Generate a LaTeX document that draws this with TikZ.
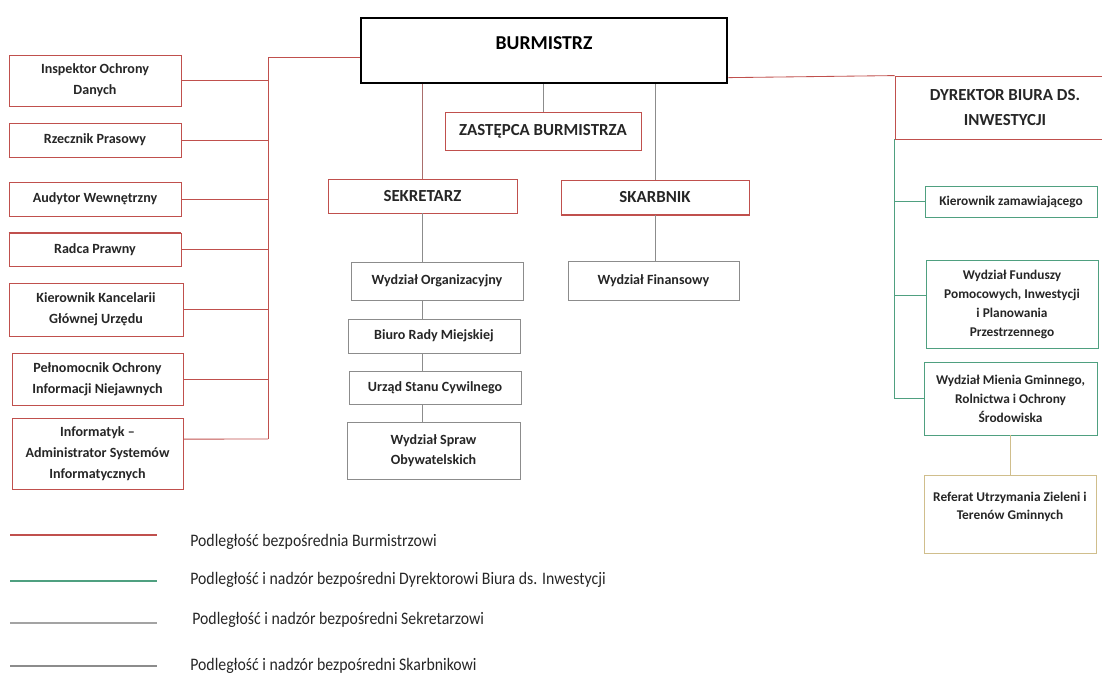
\documentclass[tikz,border=0pt]{standalone}
\usepackage{fontspec}
\setmainfont{Carlito}
\newfontfamily\legendfont{Carlito}[FakeStretch=0.9]
\usetikzlibrary{calc}
\definecolor{orgred}{RGB}{192,80,77}
\definecolor{orgbrown}{RGB}{170,110,108}
\definecolor{orggreen}{RGB}{79,160,128}
\definecolor{orggray}{RGB}{140,140,140}
\definecolor{orgtan}{RGB}{208,190,140}
\definecolor{orgtext}{RGB}{38,38,38}
\begin{document}
\begin{tikzpicture}[x=0.25mm,y=-0.25mm,
    box/.style={draw,line width=0.6pt,align=center,inner sep=2pt,text=orgtext,font=\bfseries\fontsize{10}{15}\selectfont},
    redbox/.style={box,draw=orgred},
    graybox/.style={box,draw=orggray,font=\bfseries\fontsize{10}{14}\selectfont},
    greenbox/.style={box,draw=orggreen,font=\bfseries\fontsize{9.5}{13.5}\selectfont},
    headbox/.style={redbox,font=\bfseries\fontsize{12}{18}\selectfont},
    redline/.style={orgred,line width=0.6pt},
    grayline/.style={orggray,line width=0.6pt},
    greenline/.style={orggreen,line width=0.6pt},
    legend/.style={anchor=west,inner sep=0pt,text=orgtext,font=\legendfont\fontsize{12.5}{14}\selectfont}]
    \useasboundingbox (0,0) rectangle (1102,675);
    % top
    \node[draw,line width=2pt,minimum width=91.5mm,minimum height=16.25mm,text depth=10pt,font=\bfseries\fontsize{14}{16}\selectfont] (BU) at (544,50.5) {BURMISTRZ};
    \node[headbox,minimum width=49mm,minimum height=9.5mm] (ZA) at (543,131) {ZASTĘPCA BURMISTRZA};
    \node[headbox,minimum width=47.25mm,minimum height=8.5mm] (SE) at (422.5,196) {SEKRETARZ};
    \node[headbox,minimum width=47mm,minimum height=8.75mm] (SK) at (655,197.5) {SKARBNIK};
    \draw[orgred,line width=1.4pt] (SK.south west) -- (SK.south east);
    \node[headbox,minimum width=55mm,minimum height=15.75mm] (DY) at (1005,107.5) {DYREKTOR BIURA DS.\\INWESTYCJI};
    % left column
    \node[redbox,minimum width=43mm,minimum height=12.75mm] (L1) at (95,80.5) {Inspektor Ochrony\\Danych};
    \node[redbox,minimum width=43mm,minimum height=8.5mm] (L2) at (95,140) {Rzecznik Prasowy};
    \node[redbox,minimum width=43mm,minimum height=8.5mm] (L3) at (95,199) {Audytor Wewnętrzny};
    \node[redbox,minimum width=43mm,minimum height=8.25mm] (L4) at (95,249.5) {Radca Prawny};
    \node[redbox,minimum width=43.5mm,minimum height=13.25mm] (L5) at (96,309.5) {Kierownik Kancelarii\\Głównej Urzędu};
    \node[redbox,minimum width=42.75mm,minimum height=13mm] (L6) at (97.5,379) {Pełnomocnik Ochrony\\Informacji Niejawnych};
    \node[redbox,minimum width=42.75mm,minimum height=17.75mm] (L7) at (97.5,453.5) {Informatyk --\\Administrator Systemów\\Informatycznych};
    \draw[orgred,line width=1.2pt] (L2.south west) -- (L2.south east);
    \draw[orgred,line width=1.4pt] (L4.north west) -- (L4.north east);
    \coordinate (LB) at (268,439);
    \draw[redline] ($(BU.north west)!0.6!(BU.south west)$) -| (LB);
    \foreach \n in {L1,L2,L3,L4,L5,L6}
        \draw[redline] (\n.east) -- (\n.east -| LB);
    \draw[redline] ($(L7.north east)!0.3!(L7.south east)$) -- (LB);
    % secretary and treasurer
    \node[graybox,minimum width=43mm,minimum height=9.5mm] (S1) at (437,281) {Wydział Organizacyjny};
    \node[graybox,minimum width=43mm,minimum height=8.5mm] (S2) at (434,336) {Biuro Rady Miejskiej};
    \node[graybox,minimum width=43mm,minimum height=8.25mm] (S3) at (435,387.5) {Urząd Stanu Cywilnego};
    \node[graybox,minimum width=43.25mm,minimum height=14.25mm] (S4) at (433.5,450.5) {Wydział Spraw\\Obywatelskich};
    \node[graybox,minimum width=42.75mm,minimum height=9.75mm] (F1) at (653.5,280.5) {Wydział Finansowy};
    \draw[orgbrown,line width=0.6pt] (SE.north) -- (SE.north |- BU.south);
    \draw[grayline] (ZA.north) -- (ZA.north |- BU.south);
    \draw[grayline] (SK.north) -- (SK.north |- BU.south);
    \draw[grayline] (SE.south) -- (SE.south |- S1.north);
    \draw[grayline] (S1.south -| SE.south) -- (S2.north -| SE.south);
    \draw[grayline] (S2.south -| SE.south) -- (S3.north -| SE.south);
    \draw[grayline] (S3.south -| SE.south) -- (S4.north -| SE.south);
    \draw[grayline] (SK.south) -- (F1.north -| SK.south);
    % investment office
    \node[greenbox,minimum width=43mm,minimum height=7.75mm] (D1) at (1011,201.5) {Kierownik zamawiającego};
    \node[greenbox,minimum width=43mm,minimum height=22mm] (D2) at (1012,304) {Wydział Funduszy\\Pomocowych, Inwestycji\\i Planowania\\Przestrzennego};
    \node[greenbox,minimum width=43.25mm,minimum height=18.25mm] (D3) at (1010.5,398.5) {Wydział Mienia Gminnego,\\Rolnictwa i Ochrony\\Środowiska};
    \node[box,draw=orgtan,minimum width=43mm,minimum height=19.5mm,text depth=12pt,font=\bfseries\fontsize{9.5}{13}\selectfont] (R1) at (1010,514) {Referat Utrzymania Zieleni i\\Terenów Gminnych};
    \draw[redline] ($(BU.north east)!0.9!(BU.south east)$) -- (DY.north west);
    \draw[greenline] (DY.south west) |- (D3.west);
    \draw[greenline] (D1.west) -- (D1.west -| DY.south west);
    \draw[greenline] ($(D2.north west)!0.4!(D2.south west)$) coordinate (D2w) -- (D2w -| DY.south west);
    \draw[orgtan,line width=0.6pt] (R1.north) -- (R1.north |- D3.south);
    % legend
    \draw[orgred,line width=0.9pt] (10,535) -- (157,535);
    \node[legend] (G1) at (190,542) {Podległość bezpośrednia Burmistrzowi};
    \draw[orggreen,line width=0.9pt] (10,581) -- (157,581);
    \node[legend] (G2) at (190,580) {Podległość i nadzór bezpośredni Dyrektorowi Biura ds. Inwestycji};
    \draw[orggray!80,line width=0.8pt] (10,623) -- (157,623);
    \node[legend] (G3) at (192,620) {Podległość i nadzór bezpośredni Sekretarzowi};
    \draw[orggray,line width=0.8pt] (10,666) -- (157,666);
    \node[legend] (G4) at (190,666) {Podległość i nadzór bezpośredni Skarbnikowi};
\end{tikzpicture}
\end{document}
